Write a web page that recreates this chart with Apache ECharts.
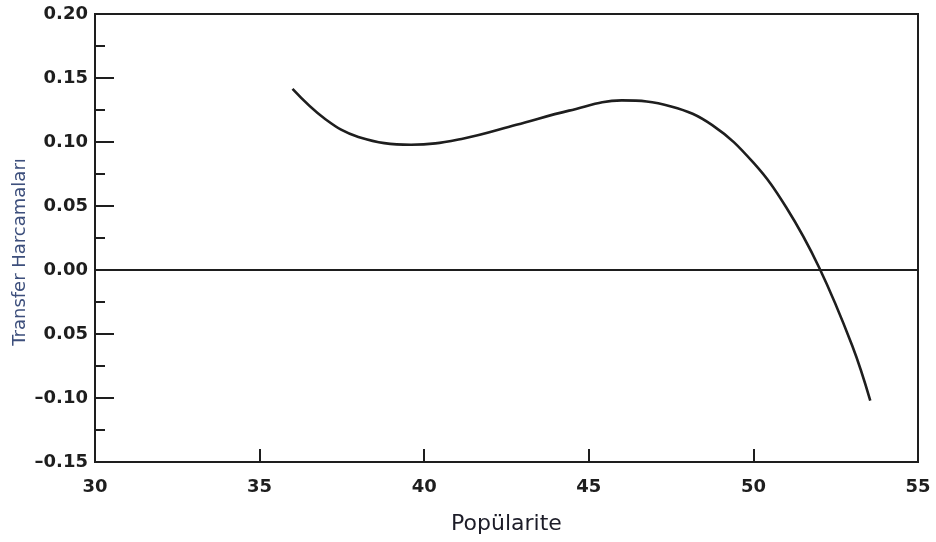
<!DOCTYPE html>
<html>
<head>
<meta charset="utf-8">
<script src="https://cdn.jsdelivr.net/npm/echarts@6/dist/echarts.min.js"></script>
<style>html,body{margin:0;padding:0;background:#fff;}#c{width:936px;height:542px;}</style>
</head>
<body>
<div id="c"></div>
<script>
// Data
const xValues = [36, 37, 38, 39.6, 41.2, 42.8, 44.4, 46.0, 47.5, 48.75, 50, 51, 52, 53, 53.55];
const yValues = [0.1415, 0.1178, 0.1040, 0.0978, 0.1028, 0.1134, 0.1245, 0.1325, 0.1278, 0.1132, 0.0838, 0.0488, 0.0018, -0.0590, -0.1020];
const yTickLabels = ['\u20130.15', '\u20130.10', '0.05', '0.00', '0.05', '0.10', '0.15', '0.20'];
const xTickLabels = ['30', '35', '40', '45', '50', '55'];
const xAxisName = 'Popülarite';
const yAxisName = 'Transfer Harcamaları';

const yMin = -0.15, yMax = 0.2, yStep = 0.05;
const xMin = 30, xMax = 55, xStep = 5;

const chart = echarts.init(document.getElementById('c'), null, {renderer: 'canvas'});
const lineData = xValues.map((x, i) => [x, yValues[i]]);
const ink = '#1e1e1e';

chart.setOption({
  animation: false,
  backgroundColor: '#ffffff',
  grid: {left: 95, right: 18, top: 14, bottom: 80, show: true, borderColor: ink, borderWidth: 2, backgroundColor: 'transparent'},
  xAxis: {
    type: 'value', min: xMin, max: xMax, interval: xStep,
    name: xAxisName, nameLocation: 'middle', nameGap: 51,
    nameTextStyle: {fontFamily: 'DejaVu Sans', fontSize: 22, color: '#1c1c28'},
    axisLine: {show: true, onZero: false, lineStyle: {color: ink, width: 2}},
    axisTick: {show: true, inside: true, length: 13, lineStyle: {color: ink, width: 2}},
    axisLabel: {margin: 16, fontFamily: 'DejaVu Sans', fontWeight: 'bold', fontSize: 18, color: ink,
      formatter: v => xTickLabels[Math.round((v - xMin) / xStep)]},
    splitLine: {show: false}
  },
  yAxis: {
    type: 'value', min: yMin, max: yMax, interval: yStep,
    axisLine: {show: true, onZero: false, lineStyle: {color: ink, width: 2}},
    axisTick: {show: true, inside: true, length: 19, lineStyle: {color: ink, width: 2}},
    minorTick: {show: true, splitNumber: 2, length: 10, lineStyle: {color: ink, width: 2}},
    axisLabel: {margin: 7, fontFamily: 'DejaVu Sans', fontWeight: 'bold', fontSize: 18, color: ink,
      formatter: v => yTickLabels[Math.round((v - yMin) / yStep)]},
    splitLine: {show: false}
  },
  graphic: [{
    type: 'text', x: 20, y: 252, rotation: Math.PI / 2,
    style: {text: yAxisName, fontFamily: 'DejaVu Sans', fontSize: 18, fill: '#3d4f7c', align: 'center', verticalAlign: 'middle'}
  }],
  series: [{
    type: 'line', data: lineData, smooth: 0.4, showSymbol: false,
    lineStyle: {color: ink, width: 2.6},
    markLine: {silent: true, symbol: 'none', label: {show: false},
      lineStyle: {color: ink, width: 2, type: 'solid'}, data: [{yAxis: 0}]}
  }]
});
</script>
</body>
</html>
